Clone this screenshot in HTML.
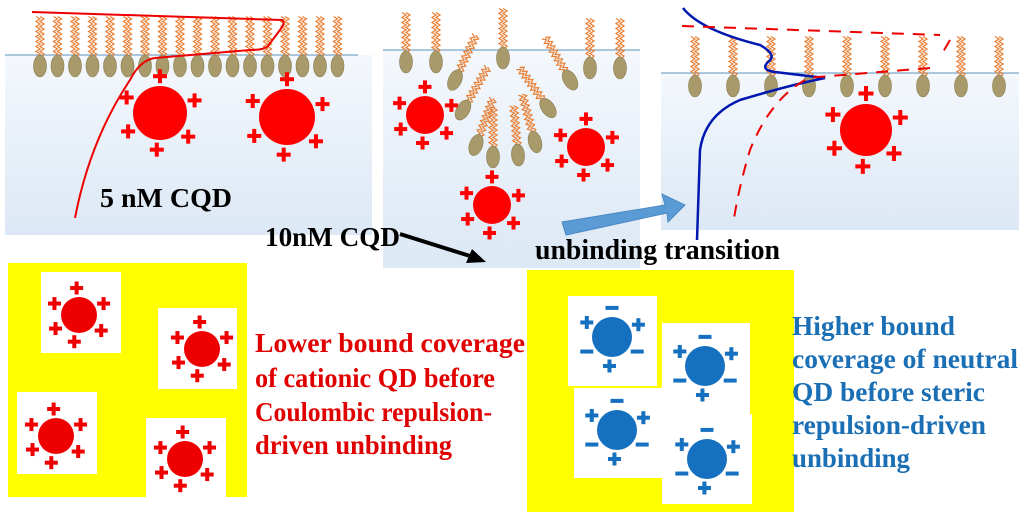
<!DOCTYPE html>
<html><head><meta charset="utf-8"><style>
body{margin:0;width:1024px;height:512px;overflow:hidden;background:#fff}
svg{position:absolute;left:0;top:0}
text{font-family:"Liberation Serif",serif;font-weight:bold}
</style></head><body>
<svg id="s" width="1024" height="512" viewBox="0 0 1024 512">
<defs>
<linearGradient id="w" x1="0" y1="0" x2="0" y2="1"><stop offset="0" stop-color="#f4f8fc"/><stop offset="1" stop-color="#dce8f5"/></linearGradient>
</defs>
<rect x="5" y="55" width="367" height="180" fill="url(#w)"/>
<rect x="383" y="50" width="257" height="218" fill="url(#w)"/>
<rect x="661" y="73" width="358" height="157" fill="url(#w)"/>
<line x1="5" y1="55" x2="358" y2="55" stroke="#7aa6c8" stroke-width="1.2"/>
<line x1="383" y1="50" x2="640" y2="50" stroke="#7aa6c8" stroke-width="1.2"/>
<line x1="661" y1="73" x2="1019" y2="73" stroke="#7aa6c8" stroke-width="1.2"/>
<g id="lip"></g>
<g id="qd"></g>
<rect x="8" y="263" width="239" height="234" fill="#ffff00"/>
<rect x="527" y="270" width="267" height="242" fill="#ffff00"/>
<g fill="#fff">
<rect x="41" y="272" width="80" height="81"/><rect x="158" y="308" width="79" height="81"/>
<rect x="17" y="392" width="80" height="82"/><rect x="146" y="418" width="80" height="79"/>
<rect x="568" y="296" width="89" height="90"/><rect x="662" y="323" width="88" height="91"/>
<rect x="574" y="388" width="88" height="90"/><rect x="662" y="414" width="90" height="90"/>
</g>
<g id="qd2"></g>
<path d="M32 12 L282 20 Q286 22 280 30 L268 46 Q264 50 250 50 L155 58 Q140 60 130 80 Q90 140 75 218" fill="none" stroke="#e00" stroke-width="2"/>
<path d="M683 8 Q700 30 760 45 Q778 55 768 62 Q760 70 775 72 L825 78 Q790 85 740 100 Q705 115 700 150 L697 240" fill="none" stroke="#0018b0" stroke-width="2.5"/>
<path d="M682 26 L940 35 M950 40 L940 57 M930 68 L805 78 M805 80 Q770 100 750 150 Q738 190 733 225" fill="none" stroke="#e00" stroke-width="2" stroke-dasharray="12 9"/>
<path d="M562 222 L665 205 L662 194 L685 205 L668 222 L667 213 L566 235 Z" fill="#5b9bd5" stroke="#4a88c2"/>
<line x1="400" y1="234" x2="470" y2="256" stroke="#000" stroke-width="4"/>
<path d="M486 262 L466 263 L472 249 Z" fill="#000"/>
<text x="100" y="207" font-size="27" textLength="132" lengthAdjust="spacingAndGlyphs">5 nM CQD</text>
<text x="265" y="246" font-size="27" textLength="135" lengthAdjust="spacingAndGlyphs">10nM CQD</text>
<text x="535" y="259" font-size="28" textLength="245" lengthAdjust="spacingAndGlyphs">unbinding transition</text>
<g fill="#e00000" font-size="27">
<text x="255" y="352" textLength="270" lengthAdjust="spacingAndGlyphs">Lower bound coverage</text>
<text x="255" y="387" textLength="240" lengthAdjust="spacingAndGlyphs">of cationic QD before</text>
<text x="255" y="421" textLength="237" lengthAdjust="spacingAndGlyphs">Coulombic repulsion-</text>
<text x="255" y="454" textLength="197" lengthAdjust="spacingAndGlyphs">driven unbinding</text>
</g>
<g fill="#1a6fb5" font-size="27">
<text x="792" y="335" textLength="163" lengthAdjust="spacingAndGlyphs">Higher bound</text>
<text x="792" y="368" textLength="226" lengthAdjust="spacingAndGlyphs">coverage of neutral</text>
<text x="792" y="401" textLength="193" lengthAdjust="spacingAndGlyphs">QD before steric</text>
<text x="792" y="434" textLength="194" lengthAdjust="spacingAndGlyphs">repulsion-driven</text>
<text x="792" y="467" textLength="118" lengthAdjust="spacingAndGlyphs">unbinding</text>
</g>
</svg>
<script>
const NS="http://www.w3.org/2000/svg";
function el(p,t,a){const e=document.createElementNS(NS,t);for(const k in a)e.setAttribute(k,a[k]);p.appendChild(e);return e;}
const lip=document.getElementById('lip');
function lipid(x,y,ang){
  const g=el(lip,'g',{transform:`translate(${x},${y}) rotate(${ang})`});
  let d="M-2 -10";for(let i=0;i<16;i++){d+=` L${i%2?-4:0} ${-12-i*2.5}`;}
  el(g,'path',{d:d,fill:'none',stroke:'#e8823a','stroke-width':1.3});
  let d2="M2 -10";for(let i=0;i<16;i++){d2+=` L${i%2?0:4} ${-12-i*2.5}`;}
  el(g,'path',{d:d2,fill:'none',stroke:'#e8823a','stroke-width':1.3});
  el(g,'ellipse',{cx:0,cy:0,rx:6.5,ry:11,fill:'#a89a6a',stroke:'#8a7c50','stroke-width':0.6});
}
for(let i=0;i<18;i++)lipid(40+i*17.5,66,0);
[[406,62,0],[436,62,0],[503,58,0],[590,68,0],[620,68,0],[455,80,25],[570,80,-30],[463,110,30],[548,108,-35],[476,145,20],[493,157,0],[518,155,-5],[535,142,-15]].forEach(a=>lipid(...a));
for(let i=0;i<9;i++)lipid(695+i*38,86,0);
function qd(g,x,y,r,col,signs,sz,th){
  th=th||3.6;
  el(g,'circle',{cx:x,cy:y,r:r,fill:col});
  signs.forEach(([a,s])=>{const R=r+sz*1.4;const px=x+R*Math.cos(a*Math.PI/180),py=y+R*Math.sin(a*Math.PI/180);
    el(g,'rect',{x:px-sz,y:py-th/2,width:2*sz,height:th,fill:col});
    if(s==='+')el(g,'rect',{x:px-th/2,y:py-sz,width:th,height:2*sz,fill:col});});
}
const q=document.getElementById('qd'),q2=document.getElementById('qd2');
const P=[[-90,'+'],[-20,'+'],[40,'+'],[95,'+'],[150,'+'],[205,'+']];
qd(q,160,113,27,'#ff0000',P,7,4);qd(q,287,117,28,'#ff0000',P,7,4);
qd(q,425,115,19,'#ff0000',P,6.5,4);qd(q,586,147,19,'#ff0000',P,6.5,4);qd(q,492,205,19,'#ff0000',P,6.5,4);
qd(q,866,130,26,'#ff0000',P,7.5,4);
const P2=[[-95,'+'],[-25,'+'],[35,'+'],[100,'+'],[150,'+'],[205,'+']];
[[79,315],[202,349],[56,436],[185,459]].forEach(([x,y])=>qd(q2,x,y,18,'#ee0000',P2,6.5,4));
const B=[[-90,'-'],[-25,'+'],[30,'-'],[95,'+'],[150,'-'],[210,'+']];
[[612,337],[705,366],[617,430],[707,459]].forEach(([x,y])=>qd(q2,x,y,20,'#1570c0',B,6.5,4));
</script>
</body></html>
